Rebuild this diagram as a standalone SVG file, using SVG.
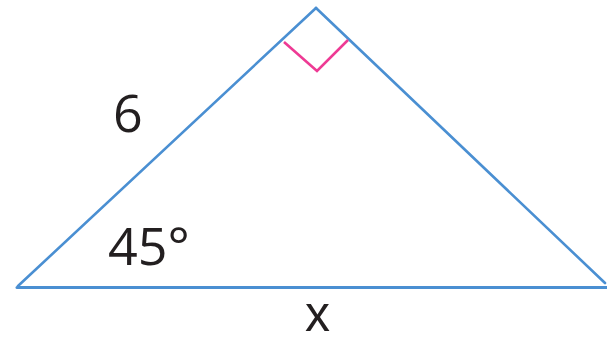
<svg xmlns="http://www.w3.org/2000/svg" width="607" height="343" viewBox="0 0 607 343">
<style>
.side{stroke:#4a8fd2;stroke-width:2.6;fill:none;stroke-linecap:round}
.mark{stroke:#ee3a94;stroke-width:2.6;fill:none}
.lbl{font-family:"Open Sans","Liberation Sans",sans-serif;font-size:52px;fill:#231f20}
</style>
<rect width="607" height="343" fill="#fff"/>
<g id="connectors">
<line class="side" x1="18" y1="286" x2="316" y2="8"/>
<line class="side" x1="316" y1="8" x2="605" y2="283"/>
<line class="side" x1="17" y1="287.5" x2="607" y2="287.5" style="stroke-width:3"/>
</g>
<g id="right-angle"><polyline class="mark" points="284,42 317,71 348,40"/></g>
<g id="label-6"><text class="lbl" x="113" y="132">6</text></g>
<g id="label-45"><text class="lbl" x="108" y="265">45°</text></g>
<g id="label-x"><text class="lbl" x="305" y="331" style="font-family:'Liberation Sans',sans-serif;font-size:50px">x</text></g>
</svg>
